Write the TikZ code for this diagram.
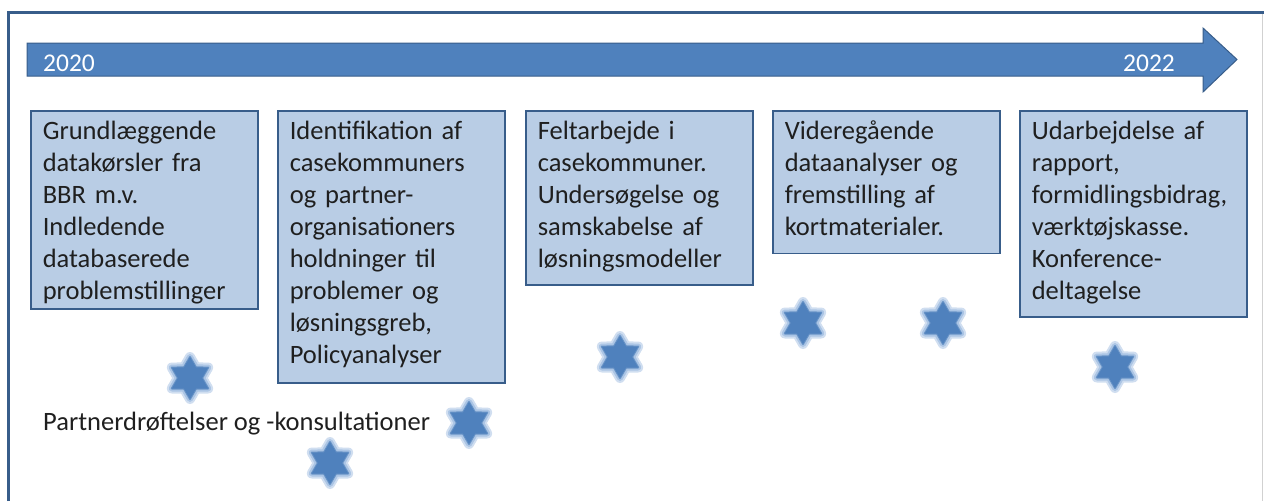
\documentclass[tikz,border=0pt]{standalone}
\usepackage{fontspec}
\setmainfont{Carlito}
\usetikzlibrary{shapes.geometric}
\definecolor{officeblue}{RGB}{79,129,189}
\definecolor{officedark}{RGB}{56,93,138}
\definecolor{officelight}{RGB}{185,205,229}
\definecolor{glowblue}{RGB}{150,182,222}

\begin{document}
\begin{tikzpicture}[
    x=1pt, y=-1pt,
    phase/.style={draw=officedark, line width=1.6pt, fill=officelight, anchor=north west,
        text width=203pt, inner xsep=12pt, inner ysep=10pt, align=left,
        font=\fontsize{26.5}{32}\selectfont, text=black!88},
    year/.style={text=white, font=\fontsize{25.5}{30}\selectfont, anchor=base west, inner sep=0pt},
    hexstar/.style={star, star points=6, star point ratio=1.73, minimum size=42pt, inner sep=0pt,
        fill=officeblue,
        preaction={draw=glowblue!45, line width=10pt, line join=round},
        preaction={draw=glowblue!80, line width=6pt, line join=round},
        preaction={draw=officeblue!85, line width=2pt, line join=round}},
]
    \useasboundingbox (0,0) rectangle (1264,501);

    % frame
    \draw[officedark, line width=3pt] (8.5,501) -- (8.5,12.5) -- (1264,12.5);
    \draw[black!18, line width=1pt] (1262,14) -- (1262,501);

    % time arrow
    \filldraw[fill=officeblue, draw=officedark, line width=1pt, line join=miter]
        (27,43) -- (1203,43) -- (1203,28) -- (1237,59.5) -- (1203,92) -- (1203,76) -- (27,76) -- cycle;
    \node[year] (y20) at (43,71) {2020};
    \node[year] (y22) at (1123,71) {2022};

    % phases (text depth sets the box bottoms)
    \node[phase, text depth=160pt] (p1) at (30,110) {Grundlæggende\\datakørsler fra\\BBR m.v.\\Indledende\\databaserede\\problemstillinger};
    \node[phase, text depth=234pt] (p2) at (277,110) {Identifikation af\\casekommuners\\og partner-\\organisationers\\holdninger til\\problemer og\\løsningsgreb,\\Policyanalyser};
    \node[phase, text depth=136pt] (p3) at (525,110) {Feltarbejde i\\casekommuner.\\Undersøgelse og\\samskabelse af\\løsningsmodeller};
    \node[phase, text depth=104pt] (p4) at (772,110) {Videregående\\dataanalyser og\\fremstilling af\\kortmaterialer.};
    \node[phase, text depth=168pt] (p5) at (1019,110) {Udarbejdelse af\\rapport,\\formidlingsbidrag,\\værktøjskasse.\\Konference-\\deltagelse};

    % partner meetings
    \node[anchor=base west, inner sep=0pt, font=\fontsize{26.5}{30}\selectfont, text=black!88] (pm) at (43,430)
        {Partnerdrøftelser og -konsultationer};
    \node[hexstar] (s1) at (190,378) {};
    \node[hexstar] (s2) at (330,463) {};
    \node[hexstar] (s3) at (469,423) {};
    \node[hexstar] (s4) at (620,357) {};
    \node[hexstar] (s5) at (803,323) {};
    \node[hexstar] (s6) at (943,323) {};
    \node[hexstar] (s7) at (1115,367) {};
\end{tikzpicture}
\end{document}
